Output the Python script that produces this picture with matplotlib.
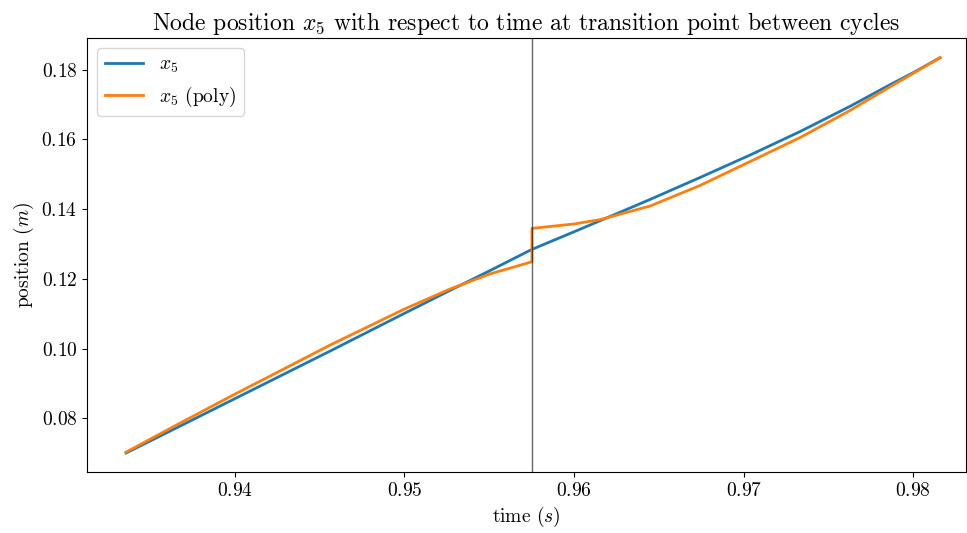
import matplotlib
matplotlib.use("Agg")
import matplotlib.pyplot as plt

plt.rcParams['font.family'] = 'serif'
plt.rcParams['font.serif'] = ['cmr10']
plt.rcParams['mathtext.fontset'] = 'cm'
plt.rcParams['axes.formatter.use_mathtext'] = True
plt.rcParams['axes.unicode_minus'] = False

# transition between the two cycles
t_switch = 0.95752

t_exact = [0.93359, 0.93678, 0.94002, 0.94220, 0.94562, 0.95000, 0.95269,
           0.95505, 0.95752, 0.96000, 0.96153, 0.96448, 0.96743, 0.97037,
           0.97332, 0.97627, 0.97863, 0.98000, 0.98158]
x5_exact = [0.07005, 0.07779, 0.08568, 0.09098, 0.09930, 0.11011, 0.11670,
            0.12239, 0.12847, 0.13351, 0.13667, 0.14278, 0.14909, 0.15551,
            0.16225, 0.16950, 0.17570, 0.17917, 0.18347]

t_poly = [0.93359, 0.93678, 0.94002, 0.94220, 0.94562, 0.95000, 0.95269,
          0.95505, 0.95752, 0.95752, 0.96000, 0.96153, 0.96448, 0.96743,
          0.97037, 0.97332, 0.97627, 0.97863, 0.98000, 0.98158]
x5_poly = [0.07030, 0.07865, 0.08697, 0.09242, 0.10102, 0.11135, 0.11709,
           0.12144, 0.12491, 0.13449, 0.13575, 0.13700, 0.14090, 0.14680,
           0.15364, 0.16053, 0.16830, 0.17510, 0.17897, 0.18347]

fig = plt.figure(figsize=(9.67, 5.33), dpi=100)
ax = fig.add_axes([0.09, 0.1144, 0.909, 0.8143])

ax.plot(t_exact, x5_exact, color='tab:blue', lw=2, label=r'$x_5$')
ax.plot(t_poly, x5_poly, color='tab:orange', lw=2, label=r'$x_5$ (poly)')
ax.axvline(t_switch, color='black', alpha=0.6, lw=1)

ax.set_xlim(0.93129, 0.98311)
ax.set_ylim(0.0646, 0.1891)

ax.set_title(r'Node position $x_5$ with respect to time at transition point between cycles', fontsize=17)
ax.set_xlabel(r'time ($s$)', fontsize=14)
ax.set_ylabel(r'position ($m$)', fontsize=14)
ax.tick_params(labelsize=14)
ax.legend(loc='upper left', fontsize=14)

fig.savefig('out.png', dpi=100)
